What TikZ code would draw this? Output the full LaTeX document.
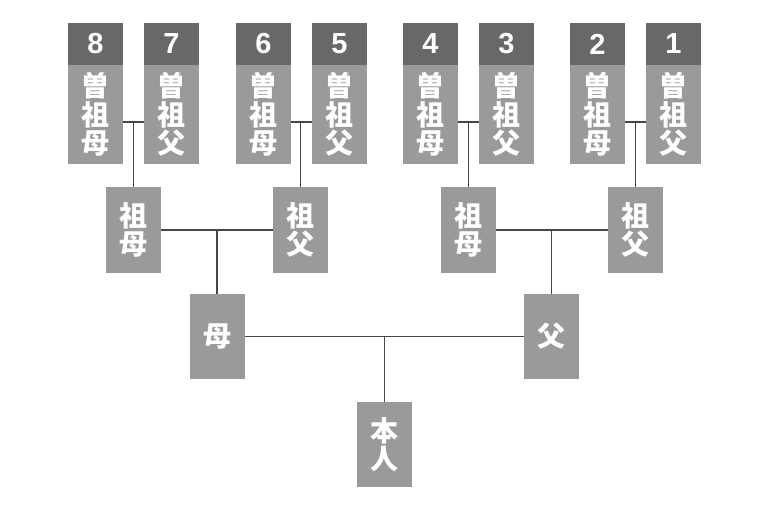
\documentclass[tikz,border=0pt]{standalone}
\usepackage{fontspec}
\usepackage{tikz}
\usetikzlibrary{calc}
\newfontfamily\jpfont{Noto Sans CJK JP}
\newfontfamily\numfont{Liberation Sans}
\definecolor{boxgray}{HTML}{9A9A9A}
\definecolor{headgray}{HTML}{686868}
\definecolor{linegray}{HTML}{474747}

\begin{document}
\begin{tikzpicture}[x=1pt,y=-1pt]
	\useasboundingbox[fill=white] (0,0) rectangle (768,512);
	\begin{scope}[every node/.style={fill=boxgray, text=white, minimum width=55pt, inner sep=0, align=center, font=\jpfont\bfseries\fontsize{28}{28.5}\selectfont}]
	% great-grandparents
	\node[minimum height=99pt] (n8) at (95.5,114.5) {曽\\祖\\母};
	\node[minimum height=99pt] (n7) at (171.5,114.5) {曽\\祖\\父};
	\node[minimum height=99pt] (n6) at (263.5,114.5) {曽\\祖\\母};
	\node[minimum height=99pt] (n5) at (339.5,114.5) {曽\\祖\\父};
	\node[minimum height=99pt] (n4) at (430.5,114.5) {曽\\祖\\母};
	\node[minimum height=99pt] (n3) at (506.5,114.5) {曽\\祖\\父};
	\node[minimum height=99pt] (n2) at (597.5,114.5) {曽\\祖\\母};
	\node[minimum height=99pt] (n1) at (673.5,114.5) {曽\\祖\\父};
	
	\begin{scope}[every node/.append style={fill=headgray, minimum height=42pt, font=\numfont\bfseries\fontsize{29}{29}\selectfont}]
	\node (h8) at (95.5,44) {8};
	\node (h7) at (171.5,44) {7};
	\node (h6) at (263.5,44) {6};
	\node (h5) at (339.5,44) {5};
	\node (h4) at (430.5,44) {4};
	\node (h3) at (506.5,44) {3};
	\node (h2) at (597.5,44) {2};
	\node (h1) at (673.5,44) {1};
	\end{scope}
	
	% grandparents
	\node[minimum height=86pt] (gm1) at (133.5,230) {祖\\母};
	\node[minimum height=86pt] (gf1) at (300.5,230) {祖\\父};
	\node[minimum height=86pt] (gm2) at (468.5,230) {祖\\母};
	\node[minimum height=86pt] (gf2) at (635.5,230) {祖\\父};
	
	% parents and self
	\node[minimum height=85pt] (mo) at (217,336.5) {母};
	\node[minimum height=85pt] (fa) at (551.5,336.5) {父};
	\node[minimum height=85pt] (me) at (384.5,444.5) {本\\人};
	\end{scope}
	
	\coordinate (c87) at ($(n8.east)+(0,7.5)$);
	\coordinate (c65) at ($(n6.east)+(0,7.5)$);
	\coordinate (c43) at ($(n4.east)+(0,7.5)$);
	\coordinate (c21) at ($(n2.east)+(0,7.5)$);
	
	\begin{scope}[draw=linegray, line width=1.4pt]
	\draw (c87) -- (n7.west |- c87);
	\draw (c65) -- (n5.west |- c65);
	\draw (c43) -- (n3.west |- c43);
	\draw (c21) -- (n1.west |- c21);
	
	\draw (gm1.north) -- (gm1.north |- c87);
	\draw (gf1.north) -- (gf1.north |- c65);
	\draw (gm2.north) -- (gm2.north |- c43);
	\draw (gf2.north) -- (gf2.north |- c21);
	
	\draw (gm1) -- (gf1);
	\draw (gm2) -- (gf2);
	\draw (mo.north) -- (mo.north |- gm1.east);
	\draw (fa.north) -- (fa.north |- gm2.east);
	
	\draw (mo) -- (fa);
	\draw (me.north) -- (me.north |- mo.east);
	\end{scope}
\end{tikzpicture}
\end{document}
